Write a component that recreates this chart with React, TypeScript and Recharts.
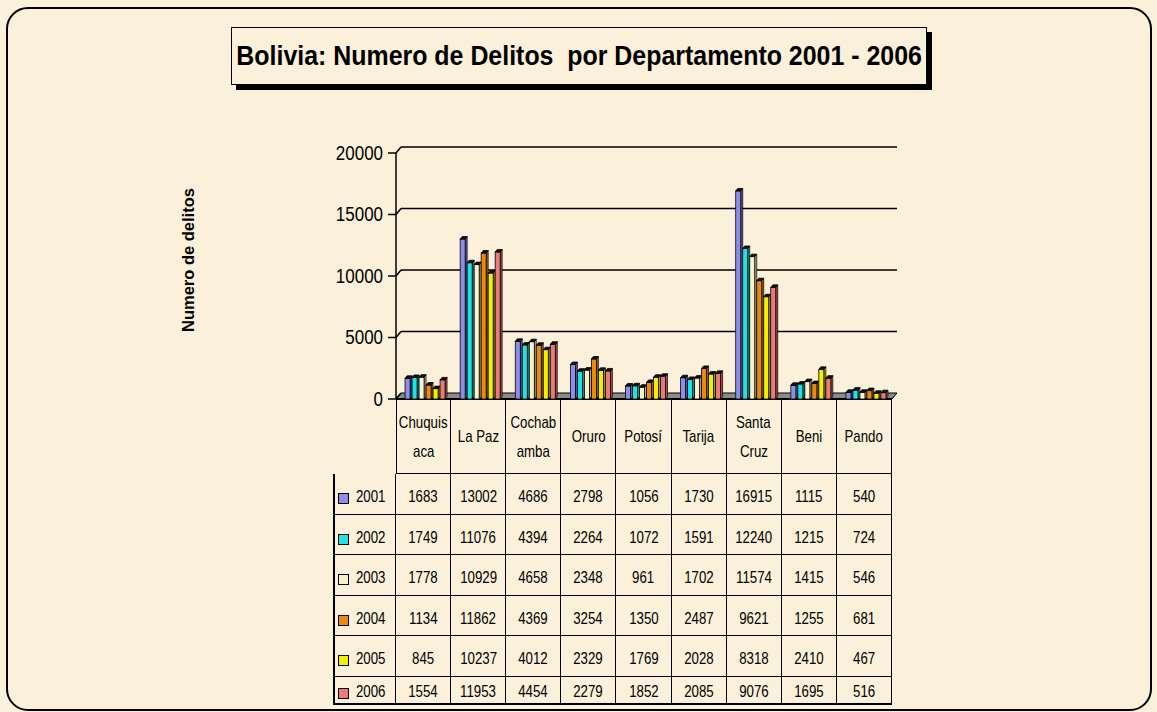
import { BarChart, Bar, XAxis, YAxis, CartesianGrid } from "recharts";

const departamentos = ["Chuquisaca", "La Paz", "Cochabamba", "Oruro", "Potosí", "Tarija", "Santa Cruz", "Beni", "Pando"];
// how the names wrap in the table header
const headerLines = [["Chuquis", "aca"], ["La Paz"], ["Cochab", "amba"], ["Oruro"], ["Potosí"], ["Tarija"], ["Santa", "Cruz"], ["Beni"], ["Pando"]];
const years = ["2001", "2002", "2003", "2004", "2005", "2006"];

const y2001 = [1683, 13002, 4686, 2798, 1056, 1730, 16915, 1115, 540];
const y2002 = [1749, 11076, 4394, 2264, 1072, 1591, 12240, 1215, 724];
const y2003 = [1778, 10929, 4658, 2348, 961, 1702, 11574, 1415, 546];
const y2004 = [1134, 11862, 4369, 3254, 1350, 2487, 9621, 1255, 681];
const y2005 = [845, 10237, 4012, 2329, 1769, 2028, 8318, 2410, 467];
const y2006 = [1554, 11953, 4454, 2279, 1852, 2085, 9076, 1695, 516];
const series = [y2001, y2002, y2003, y2004, y2005, y2006];

const yTicks = [0, 5000, 10000, 15000, 20000];

const COLORS = ["#8e8ee8", "#1fe3e3", "#f7f2cc", "#ea8a0c", "#f2f000", "#ea7b7b"];
const SIDE = ["#5a5aa8", "#119c9c", "#b8b290", "#a85f05", "#a8a600", "#a84e4e"];

const W = 1157;
const H = 712;
const PLOT_LEFT = 396;
const PLOT_RIGHT = 892;
const PLOT_TOP = 153;
const PLOT_BOTTOM = 399;
// offset of the back wall (3D depth)
const BX = 5;
const BY = 6;

const BG = "#fbf0d9";
// no Arial Narrow here, so Liberation Sans gets squeezed horizontally
const SANS = "'Liberation Sans', Arial, sans-serif";

const chartData = departamentos.map((name, i) => {
  const row: Record<string, string | number> = { name };
  years.forEach((yr, s) => (row[yr] = series[s][i]));
  return row;
});

function Narrow({ children, sx = 0.78, origin = "center" }: { children: any; sx?: number; origin?: string }) {
  return (
    <span style={{ display: "inline-block", flex: "none", whiteSpace: "pre", transform: `scaleX(${sx})`, transformOrigin: origin }}>
      {children}
    </span>
  );
}

function makeBarShape(s: number) {
  return (props: any) => {
    const { x, y, width, height } = props;
    if (height == null || height <= 0) return <g />;
    const dx = 2;
    const dy = 2.5;
    const fx = x + 3;
    const fw = width - dx;
    const bottom = y + height;
    return (
      <g>
        <polygon
          points={`${fx + fw},${y} ${fx + fw + dx},${y - dy} ${fx + fw + dx},${bottom - dy} ${fx + fw},${bottom}`}
          fill={SIDE[s]}
          stroke="#000"
          strokeWidth={0.7}
        />
        <rect x={fx} y={y} width={fw} height={height} fill={COLORS[s]} stroke="#000" strokeWidth={0.8} />
        <polygon
          points={`${fx},${y} ${fx + dx},${y - dy} ${fx + fw + dx},${y - dy} ${fx + fw},${y}`}
          fill="#111"
          stroke="#000"
          strokeWidth={0.8}
        />
      </g>
    );
  };
}

function GridLine(p: any) {
  const { x1, x2, y1 } = p;
  if (Math.abs(y1 - PLOT_BOTTOM) < 1) {
    // floor of the 3D plot
    return (
      <g key={p.key}>
        <polygon
          points={`${x1},${y1} ${x2},${y1} ${x2 + BX},${y1 - BY} ${x1 + BX},${y1 - BY}`}
          fill="#8a8a8a"
          stroke="#000"
          strokeWidth={1}
        />
        <line x1={x1} y1={y1} x2={x2} y2={y1} stroke="#000" strokeWidth={2} />
      </g>
    );
  }
  return <line key={p.key} x1={x1 + BX} y1={y1 - BY} x2={x2 + BX} y2={y1 - BY} stroke="#000" strokeWidth={1.5} />;
}

function YTick(p: any) {
  const { y, payload } = p;
  return (
    <g>
      <text
        transform={`translate(${PLOT_LEFT - 13},${y}) scale(0.87,1)`}
        textAnchor="end"
        dominantBaseline="central"
        fontSize={19.5}
        fontFamily={SANS}
        fill="#000"
      >
        {payload.value}
      </text>
      <line x1={PLOT_LEFT - 8} y1={y} x2={PLOT_LEFT} y2={y} stroke="#000" strokeWidth={1.5} />
      <line x1={PLOT_LEFT} y1={y} x2={PLOT_LEFT + BX} y2={y - BY} stroke="#000" strokeWidth={1.5} />
    </g>
  );
}

const cellBorder = "1.5px solid #000";
const ROW_H = 40.6;
const LAST_ROW_H = 28;

function DataTable() {
  const colW = (PLOT_RIGHT - PLOT_LEFT) / departamentos.length;
  return (
    <div
      style={{
        position: "absolute",
        left: 333,
        top: PLOT_BOTTOM,
        width: PLOT_RIGHT - 333 + 1,
        display: "grid",
        gridTemplateColumns: `${PLOT_LEFT - 333}px repeat(${departamentos.length}, ${colW}px)`,
        gridTemplateRows: `75px repeat(${years.length - 1}, ${ROW_H}px) ${LAST_ROW_H}px`,
        fontFamily: SANS,
        fontSize: 17,
        color: "#000",
      }}
    >
      <div />
      {headerLines.map((lines, i) => (
        <div
          key={"h" + i}
          style={{
            boxSizing: "border-box",
            borderLeft: i === 0 ? cellBorder : undefined,
            borderRight: cellBorder,
            borderBottom: cellBorder,
            display: "flex",
            flexDirection: "column",
            justifyContent: "center",
            alignItems: "center",
            lineHeight: "29px",
            paddingTop: 1,
          }}
        >
          {lines.map((l) => (
            <Narrow key={l}>{l}</Narrow>
          ))}
        </div>
      ))}
      {years.map((yr, s) => {
        const last = s === years.length - 1;
        const rowStyle = {
          boxSizing: "border-box" as const,
          borderRight: cellBorder,
          borderBottom: last ? "2px solid #000" : cellBorder,
          display: "flex",
          alignItems: "flex-start",
          overflow: "hidden",
          paddingTop: last ? 6 : 14,
          lineHeight: "18px",
        };
        return [
          <div key={"l" + yr} style={{ ...rowStyle, borderLeft: "2px solid #000", paddingLeft: 3 }}>
            <span
              style={{
                display: "inline-block",
                flex: "none",
                width: 9,
                height: 9,
                border: "1px solid #000",
                background: COLORS[s],
                marginTop: 5,
                marginRight: 7,
              }}
            />
            <Narrow origin="left">{yr}</Narrow>
          </div>,
          ...series[s].map((v, i) => (
            <div key={yr + "-" + i} style={{ ...rowStyle, justifyContent: "center" }}>
              <Narrow>{v}</Narrow>
            </div>
          )),
        ];
      })}
    </div>
  );
}

export default function App() {
  return (
    <div style={{ position: "absolute", left: 0, top: 0, width: W, height: H, overflow: "hidden", background: BG }}>
      <div
        style={{
          position: "absolute",
          left: 6,
          top: 7,
          width: 1146,
          height: 704,
          boxSizing: "border-box",
          border: "2px solid #000",
          borderRadius: 22,
        }}
      />
      <div
        style={{
          position: "absolute",
          left: 231,
          top: 27,
          width: 696,
          height: 58,
          boxSizing: "border-box",
          border: "1.5px solid #000",
          boxShadow: "5px 5px 0 #000",
          background: BG,
          fontFamily: SANS,
          fontWeight: "bold",
          fontSize: 28,
          lineHeight: "55px",
          display: "flex",
          justifyContent: "center",
          color: "#000",
        }}
      >
        <Narrow sx={0.89}>{"Bolivia: Numero de Delitos  por Departamento 2001 - 2006"}</Narrow>
      </div>
      <div
        style={{
          position: "absolute",
          left: 88,
          top: 250,
          width: 200,
          height: 20,
          lineHeight: "20px",
          textAlign: "center",
          transform: "rotate(-90deg)",
          fontFamily: SANS,
          fontWeight: "bold",
          fontSize: 16.5,
          color: "#000",
        }}
      >
        Numero de delitos
      </div>
      <div style={{ position: "absolute", left: 0, top: 0 }}>
        <BarChart
          width={W}
          height={H}
          data={chartData}
          margin={{ top: PLOT_TOP, right: W - PLOT_RIGHT, bottom: H - PLOT_BOTTOM, left: PLOT_LEFT - 60 }}
          barGap={0}
          barCategoryGap="11%"
        >
          <CartesianGrid vertical={false} horizontal={GridLine} />
          <XAxis dataKey="name" hide />
          <YAxis
            width={60}
            domain={[0, 20000]}
            ticks={yTicks}
            interval={0}
            tickLine={false}
            axisLine={{ stroke: "#000", strokeWidth: 1.5 }}
            tick={(p: any) => <YTick {...p} />}
          />
          {years.map((yr, s) => (
            <Bar key={yr} dataKey={yr} isAnimationActive={false} shape={makeBarShape(s)} />
          ))}
        </BarChart>
      </div>
      <DataTable />
    </div>
  );
}
